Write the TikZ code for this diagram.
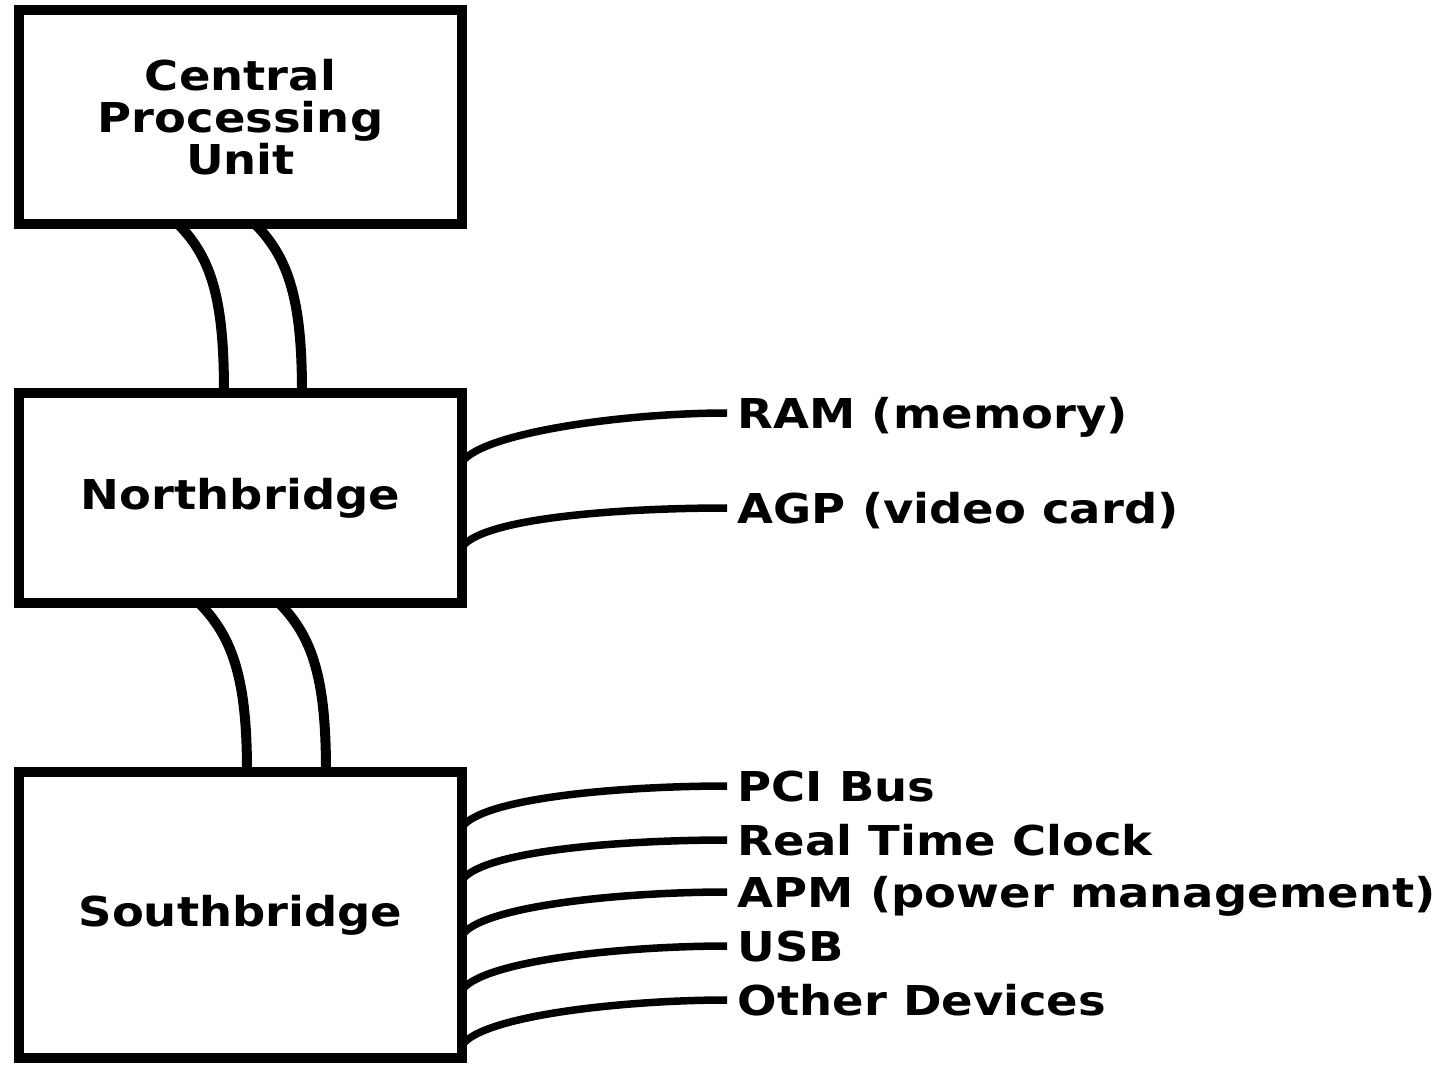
\documentclass[tikz,border=0pt]{standalone}
\usepackage{fontspec}
\newfontfamily\diagfont{DejaVu Sans}[FakeStretch=1.13]
\usetikzlibrary{positioning}

\tikzset{
  chip/.style={draw, line width=0.1cm, outer sep=0pt, minimum width=4.43cm,
    align=center, font=\diagfont\bfseries\fontsize{11.7}{12}\selectfont},
  bus/.style={line width=0.1cm},
  link/.style={line width=0.075cm},
  device/.style={anchor=west, inner sep=0.1cm, text height=0.3cm, text depth=0pt,
    font=\diagfont\bfseries\fontsize{11.7}{12}\selectfont}
}

\begin{document}
\begin{tikzpicture}[scale=1]
\useasboundingbox (0,0) rectangle (14.47,-10.66);

% Puces
\node[chip, minimum height=2.14cm] (cpu) at (2.405,-1.17) {Central\\Processing\\Unit};
\node[chip, minimum height=2.10cm, below=1.69cm of cpu] (nb) {Northbridge};
\node[chip, minimum height=2.86cm, below=1.69cm of nb] (sb) {Southbridge};

% Bus CPU - Northbridge
\draw[bus] ([xshift=1.59cm]cpu.south west) .. controls +(0.35,-0.35) and +(0,0.9) .. ([xshift=2.05cm]nb.north west);
\draw[bus] ([xshift=2.36cm]cpu.south west) .. controls +(0.35,-0.35) and +(0,0.9) .. ([xshift=2.83cm]nb.north west);

% Bus Northbridge - Southbridge
\draw[bus] ([xshift=1.80cm]nb.south west) .. controls +(0.35,-0.35) and +(0,0.9) .. ([xshift=2.28cm]sb.north west);
\draw[bus] ([xshift=2.60cm]nb.south west) .. controls +(0.35,-0.35) and +(0,0.9) .. ([xshift=3.07cm]sb.north west);

% Peripheriques du Northbridge
\node[device] (ram) at (7.27,-4.13) {RAM (memory)};
\node[device] (agp) at (7.27,-5.08) {AGP (video card)};
\draw[link] ([yshift=0.36cm]nb.east) .. controls +(0.22,0.3) and +(-1.0,0) .. (ram.west);
\draw[link] ([yshift=-0.49cm]nb.east) .. controls +(0.22,0.3) and +(-1.0,0) .. (agp.west);

% Peripheriques du Southbridge
\node[device] (pci) at (7.27,-7.86) {PCI Bus};
\node[device] (rtc) at (7.27,-8.40) {Real Time Clock};
\node[device] (apm) at (7.27,-8.92) {APM (power management)};
\node[device] (usb) at (7.27,-9.46) {USB};
\node[device] (other) at (7.27,-10.00) {Other Devices};
\draw[link] ([yshift=0.88cm]sb.east) .. controls +(0.22,0.3) and +(-1.0,0) .. (pci.west);
\draw[link] ([yshift=0.35cm]sb.east) .. controls +(0.22,0.3) and +(-1.0,0) .. (rtc.west);
\draw[link] ([yshift=-0.20cm]sb.east) .. controls +(0.22,0.3) and +(-1.0,0) .. (apm.west);
\draw[link] ([yshift=-0.75cm]sb.east) .. controls +(0.22,0.3) and +(-1.0,0) .. (usb.west);
\draw[link] ([yshift=-1.30cm]sb.east) .. controls +(0.22,0.3) and +(-1.0,0) .. (other.west);

\end{tikzpicture}
\end{document}
